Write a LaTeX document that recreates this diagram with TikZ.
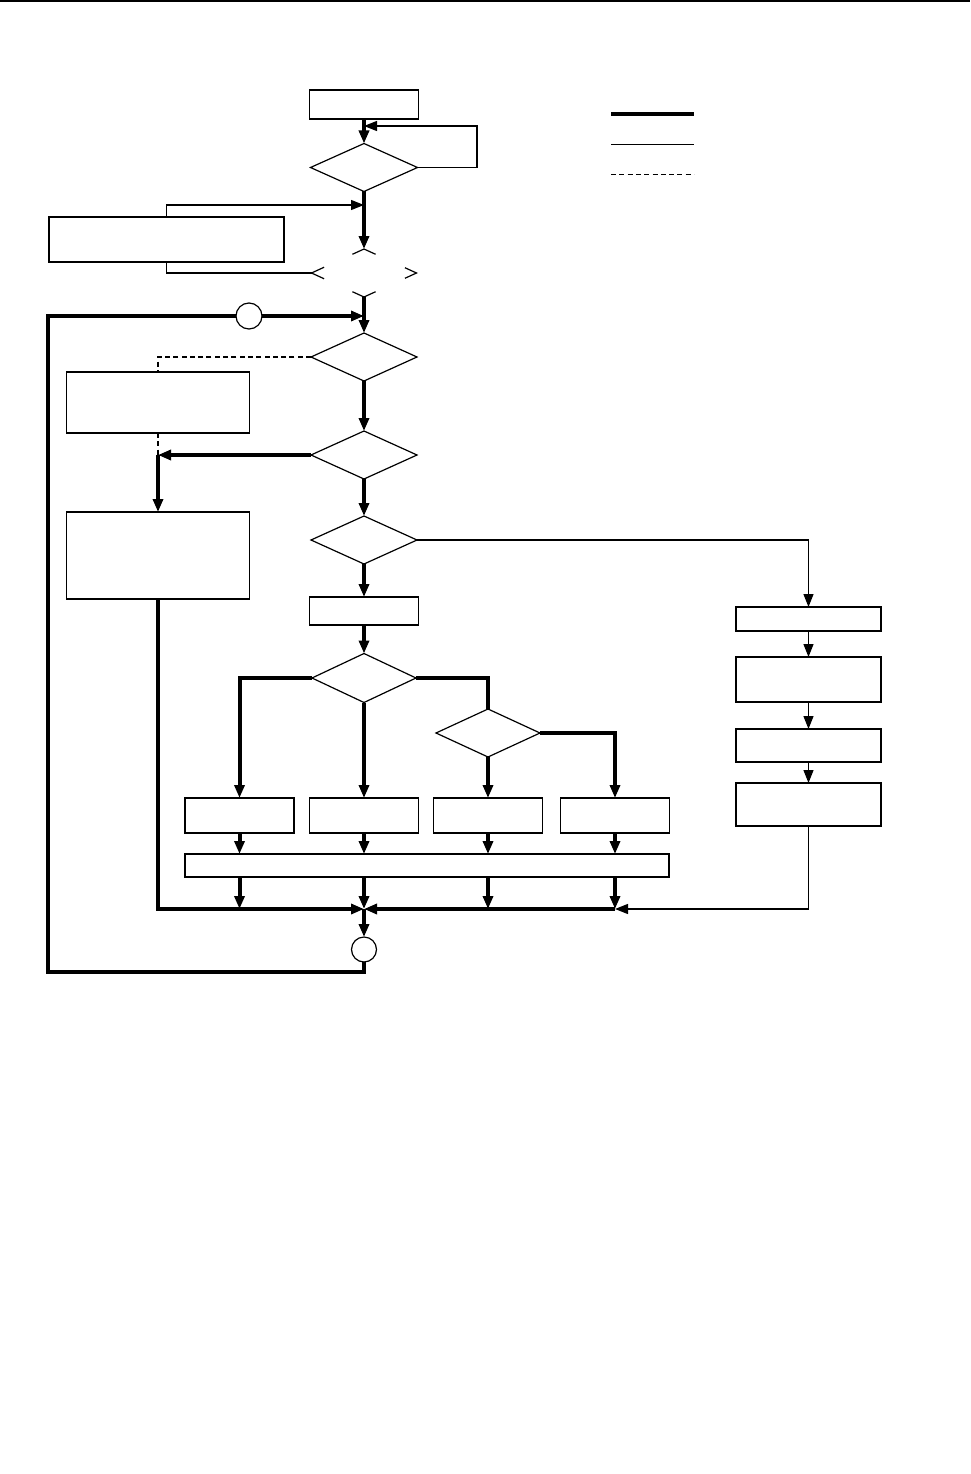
\documentclass[tikz,border=0pt]{standalone}
\usetikzlibrary{arrows.meta,shapes.geometric,calc}
\begin{document}
\begin{tikzpicture}[x=1pt,y=-1pt,
  >={Triangle[length=13pt,width=10pt]},
  box/.style={draw,rectangle,line width=1.3pt,inner sep=0pt,outer sep=0pt},
  dia/.style={draw,diamond,line width=1.2pt,inner sep=0pt,outer sep=0pt,minimum width=106pt,minimum height=48pt},
  circ/.style={draw,circle,line width=1.2pt,inner sep=0pt,outer sep=0pt,minimum size=25pt},
  thickline/.style={line width=4pt},
  thinline/.style={line width=1.3pt},
  dashline/.style={line width=1.2pt,dash pattern=on 5pt off 3.3pt}]
\useasboundingbox (0,0) rectangle (970,1474);
\fill (0,0) rectangle (970,2.5);
% nodes
\node[box,minimum width=109pt,minimum height=29pt] (A) at (364,104.5) {};
\node[dia,minimum width=107pt] (D1) at (364,167.5) {};
\node[box,minimum width=235pt,minimum height=45pt] (B) at (166.5,239.5) {};
\node[dia,draw=none,minimum width=105pt] (H) at (364,273) {};
\node[circ,minimum size=26pt] (C1) at (249,316) {};
\node[dia] (D2) at (364,357) {};
\node[box,minimum width=183pt,minimum height=61pt] (C) at (158,402.5) {};
\node[dia] (D3) at (364,455) {};
\node[box,minimum width=183pt,minimum height=87pt] (E) at (158,555.5) {};
\node[dia] (D4) at (364,540) {};
\node[box,minimum width=109pt,minimum height=28pt] (G) at (364,611) {};
\node[dia,minimum width=104pt,minimum height=49pt] (D5) at (364,678) {};
\node[dia,minimum width=104pt] (D6) at (488,733) {};
\node[box,minimum width=109pt,minimum height=35pt] (H1) at (239.5,815.5) {};
\node[box,minimum width=109pt,minimum height=35pt] (H2) at (364,815.5) {};
\node[box,minimum width=109pt,minimum height=35pt] (H3) at (488,815.5) {};
\node[box,minimum width=109pt,minimum height=35pt] (H4) at (615,815.5) {};
\node[box,minimum width=484pt,minimum height=23pt] (W) at (427,865.5) {};
\node[box,minimum width=145pt,minimum height=24pt] (F) at (808.5,619) {};
\node[box,minimum width=145pt,minimum height=45pt] (I) at (808.5,679.5) {};
\node[box,minimum width=145pt,minimum height=33pt] (J) at (808.5,745.5) {};
\node[box,minimum width=145pt,minimum height=43pt] (K) at (808.5,804.5) {};
\node[circ] (C2) at (364,949.5) {};
% coordinates
\coordinate (j1) at (364,126);
\coordinate (loopR) at (477,126);
\coordinate (j2) at (364,205);
\coordinate (j3) at (364,316);
\coordinate (j4) at (158,455);
\coordinate (m) at (364,909);
\coordinate (m4) at (615,909);
\coordinate (loopBL) at (48,972);
% hexagon corner marks
\draw[line width=1.2pt] ($(H.north)!0.22!(H.west)$) -- (H.north) -- ($(H.north)!0.22!(H.east)$);
\draw[line width=1.2pt] ($(H.west)!0.24!(H.north)$) -- (H.west) -- ($(H.west)!0.24!(H.south)$);
\draw[line width=1.2pt] ($(H.east)!0.22!(H.north)$) -- (H.east) -- ($(H.east)!0.22!(H.south)$);
\draw[line width=1.2pt] ($(H.south)!0.22!(H.west)$) -- (H.south) -- ($(H.south)!0.22!(H.east)$);
% main column
\draw[thickline,->] (A.south) -- (D1.north);
\draw[thinline,->] (D1.east) -| (loopR) -- (j1);
\draw[thickline,->] (D1.south) -- (H.north);
\draw[thinline,->] (B.north) |- (j2);
\draw[thinline] (B.south) |- (H.west);
\draw[thickline,->] (H.south) -- (D2.north);
\draw[thickline,->] (D2.south) -- (D3.north);
\draw[dashline] (D2.west) -| (C.north);
\draw[dashline] (C.south) -- (j4);
\draw[thickline,->] (D3.west) -- (j4);
\draw[thickline,->] (j4) -- (E.north);
\draw[thickline,->] (D3.south) -- (D4.north);
\draw[thinline,->] (D4.east) -| (F.north);
\draw[thickline,->] (D4.south) -- (G.north);
\draw[thickline,->] (G.south) -- (D5.north);
\draw[thickline,->] (D5.west) -| (H1.north);
\draw[thickline,->] (D5.south) -- (H2.north);
\draw[thickline] (D5.east) -| (D6.north);
\draw[thickline,->] (D6.south) -- (H3.north);
\draw[thickline,->] (D6.east) -| (H4.north);
\foreach \h in {H1,H2,H3,H4}{
  \draw[thickline,->] (\h.south) -- (\h.south |- W.north);
  \draw[thickline,->] (\h.south |- W.south) -- (\h.south |- m);
}
\draw[thickline,->] (E.south) |- (m);
\draw[thickline,->] (m4) -- (m);
% right column
\draw[thinline,->] (F.south) -- (I.north);
\draw[thinline,->] (I.south) -- (J.north);
\draw[thinline,->] (J.south) -- (K.north);
\draw[thinline,->] (K.south) |- (m4);
% loop back
\draw[thickline,->] (m) -- (C2.north);
\draw[thickline] (C2.south) |- (loopBL) |- (C1.west);
\draw[thickline,->] (C1.east) -- (j3);
% legend
\draw[line width=3.5pt] (611,114) -- (694,114);
\draw[thinline] (611,144.3) -- (694,144.3);
\draw[dashline] (611,174.3) -- (694,174.3);
\end{tikzpicture}
\end{document}
